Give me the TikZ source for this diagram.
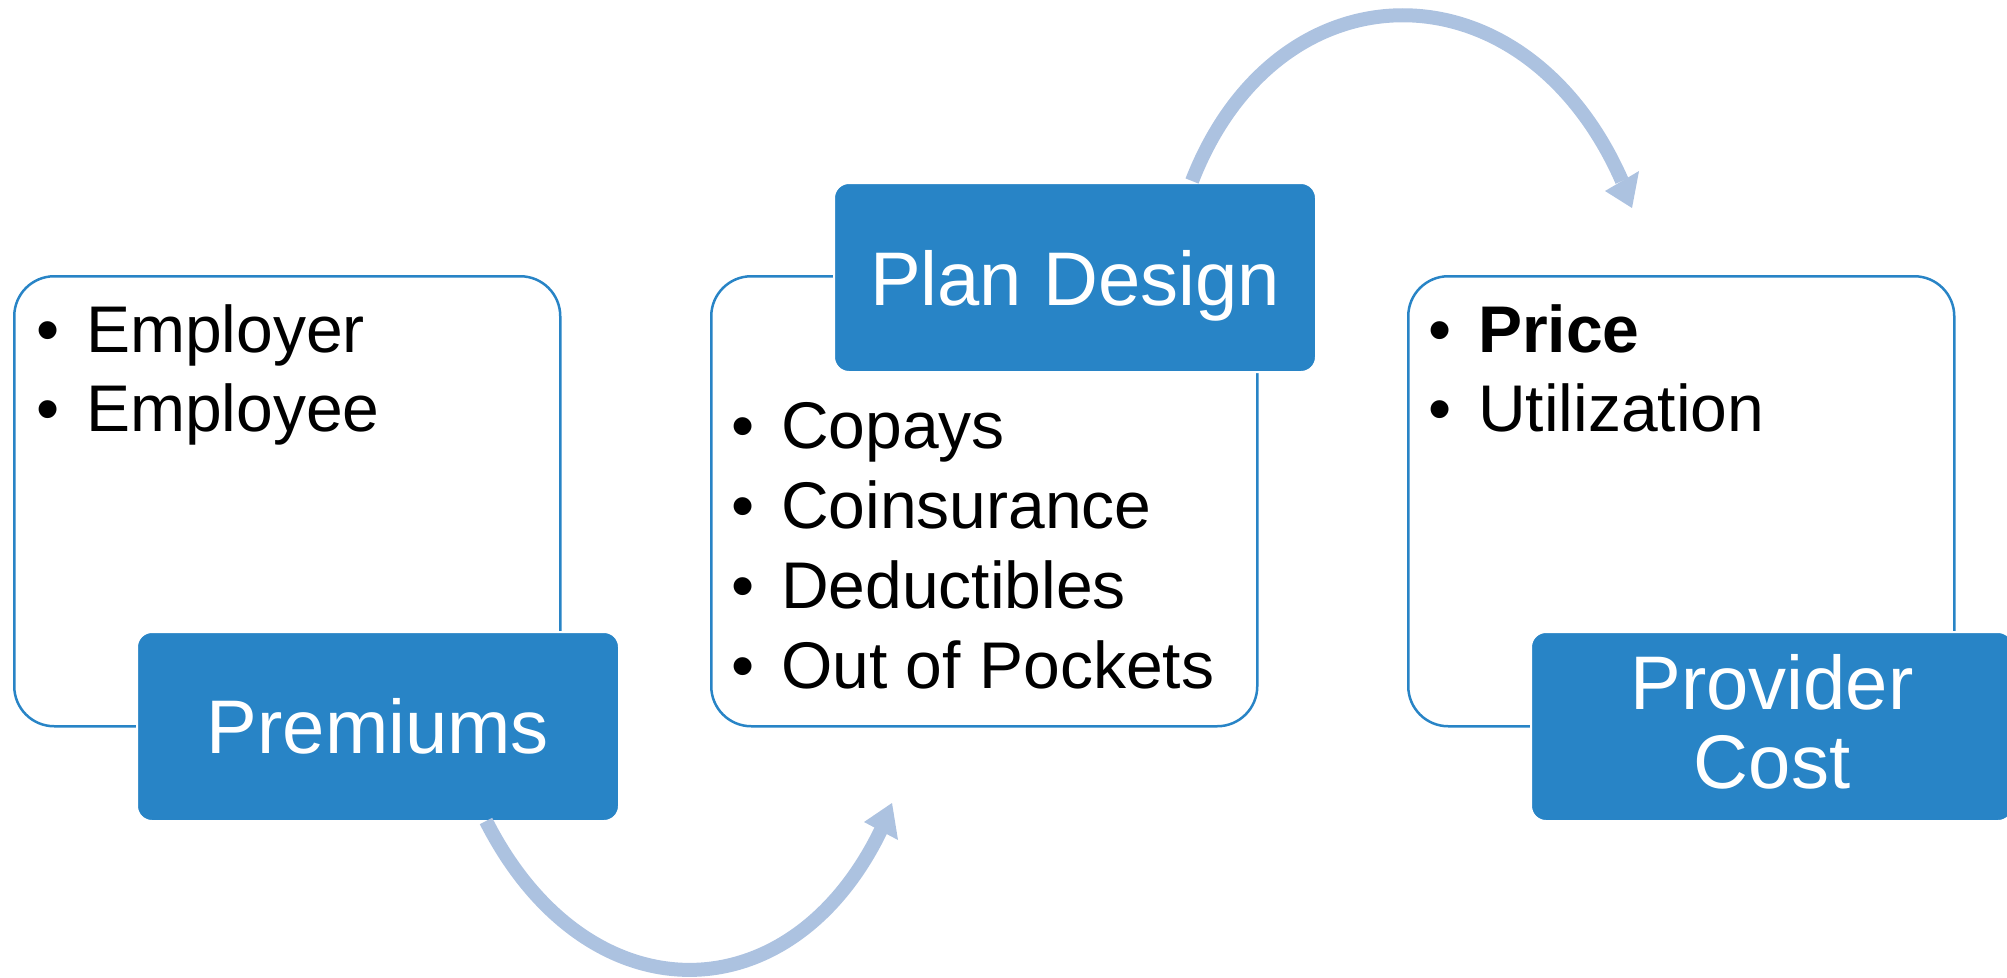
\documentclass[tikz,border=0pt]{standalone}
\usepackage{fontspec}
\setmainfont{Liberation Sans}
\definecolor{pblue}{RGB}{40,132,198}
\definecolor{parrow}{RGB}{172,194,224}
\begin{document}
\begin{tikzpicture}[x=1pt,y=-1pt,
  wbox/.style={draw=pblue, line width=2.5pt, fill=white, rounded corners=40pt,
    minimum width=546pt, minimum height=450pt, anchor=north west, inner sep=0pt},
  bbox/.style={draw=white, line width=2pt, fill=pblue, rounded corners=15pt,
    text=white, font=\fontsize{76}{80}\selectfont, align=center,
    minimum width=482pt, minimum height=189pt, anchor=north west, inner sep=0pt},
  item/.style={anchor=base west, inner sep=0pt, font=\fontsize{66}{79}\selectfont},
  arr/.style={draw=parrow, line width=14pt},
  ahead/.style={fill=parrow}]
\useasboundingbox (0,0) rectangle (2007,977);
\newcommand{\bul}{\makebox[50pt][l]{•}}
% white boxes
\node[wbox] (w1) at (13,275) {};
\node[wbox] (w2) at (710,275) {};
\node[wbox] (w3) at (1407,275) {};
% blue boxes
\node[bbox, text height=54pt, text depth=0pt] (b1) at (136,631) {Premiums};
\node[bbox, text height=56pt, text depth=0pt] (b2) at (833,182) {Plan Design};
\node[bbox, text depth=10pt] (b3) at (1530,631) {Provider\\[-1pt]Cost};
% lists
\node[item] (e1) at (36,352) {\bul Employer};
\node[item] (e2) at (36,431) {\bul Employee};
\node[item] (m1) at (731,448) {\bul Copays};
\node[item] (m2) at (731,528) {\bul Coinsurance};
\node[item] (m3) at (731,608) {\bul Deductibles};
\node[item] (m4) at (731,688) {\bul Out of Pockets};
\node[item] (r1) at (1428,352) {\bul\textbf{Price}};
\node[item] (r2) at (1428,431) {\bul Utilization};
% arrows
\coordinate (t0) at (1192,181);
\coordinate (t1) at (1622,181);
\draw[arr] (t0) .. controls (1278,-40) and (1525,-40) .. (t1);
\fill[ahead] (1605,191) -- (1639,171) -- (1632,208) -- cycle;
\coordinate (u0) at (486,821);
\coordinate (u1) at (881,830);
\draw[arr] (u0) .. controls (586,1018) and (790,1018) .. (u1);
\fill[ahead] (864,822) -- (898,840) -- (892,803) -- cycle;
\end{tikzpicture}
\end{document}
